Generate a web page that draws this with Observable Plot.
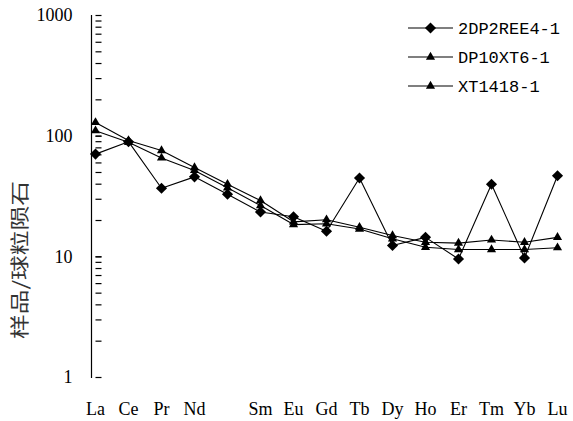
<!DOCTYPE html>
<html>
<head>
<meta charset="utf-8">
<script src="https://cdn.jsdelivr.net/npm/d3@7"></script>
<script src="https://cdn.jsdelivr.net/npm/@observablehq/plot@0.6"></script>
<style>
  html, body { margin: 0; padding: 0; background: #fff; }
  #chart { position: relative; width: 573px; height: 421px; }
</style>
</head>
<body>
<div id="chart"></div>
<script>
// ---- data ----
const elements = ["La","Ce","Pr","Nd","Pm","Sm","Eu","Gd","Tb","Dy","Ho","Er","Tm","Yb","Lu"];
const seriesNames = ["2DP2REE4-1", "DP10XT6-1", "XT1418-1"];
const seriesSymbols = ["diamond2", "triangle", "triangle"];
const s2DP2REE4 = [71, 90, 37, 46, 33, 23.5, 21.5, 16.3, 45, 12.4, 14.5, 9.6, 40, 9.8, 47];
const sDP10XT6  = [130, 92, 76, 55, 40, 29.3, 19.5, 20.3, 17.6, 15, 13.2, 13, 13.8, 13.2, 14.5];
const sXT1418   = [111, 89, 66, 52, 37.3, 26.6, 18.5, 18.8, 17, 14.1, 12, 11.5, 11.5, 11.5, 11.9];
const yMajorTicks = [1, 10, 100, 1000];
const yLabel = "样品/球粒陨石";

const seriesValues = [s2DP2REE4, sDP10XT6, sXT1418];
const rows = [];
seriesNames.forEach((name, i) => {
  elements.forEach((el, j) => rows.push({series: name, el, v: seriesValues[i][j]}));
});
const yMinorTicks = [];
for (const d of [1, 10, 100]) for (let k = 1; k <= 10; k++) yMinorTicks.push(d * k);

const serif = "'Liberation Serif', 'Times New Roman', serif";
const mono = "'Liberation Mono', 'Courier New', monospace";

const symR = {"diamond2": 5, "triangle": 3.4};

// inward tick symbol (draws a short horizontal stroke to the right)
const inwardTick = {draw(ctx) { ctx.moveTo(0, 0); ctx.lineTo(6, 0); }};

const chart = Plot.plot({
  width: 573,
  height: 421,
  marginLeft: 91,
  marginRight: 12,
  marginTop: 15,
  marginBottom: 44,
  style: {fontFamily: serif, fontSize: "18px", color: "#000", background: "#fff"},
  x: {type: "point", domain: elements, padding: 0},
  y: {type: "log", domain: [1, 1000]},
  marks: [
    Plot.frame({anchor: "left", stroke: "#000", strokeWidth: 1.2}),
    Plot.dot(yMinorTicks, {x: () => elements[0], y: d => d, symbol: inwardTick, r: 3,
      stroke: "#000", strokeWidth: 1.2, fill: "none"}),
    Plot.axisY({ticks: yMajorTicks, tickSize: 0, tickPadding: 19, tickFormat: d => String(d), label: null}),
    Plot.axisX({tickSize: 0, tickPadding: 25, tickFormat: d => d === "Pm" ? "" : d, label: null}),
    ...seriesNames.map((name, i) =>
      Plot.line(rows.filter(r => r.series === name), {x: "el", y: "v", stroke: "#000", strokeWidth: 1.1})),
    ...seriesNames.map((name, i) =>
      Plot.dot(rows.filter(r => r.series === name), {x: "el", y: "v", symbol: () => seriesSymbols[i],
        r: symR[seriesSymbols[i]], fill: "#000", stroke: "none"}))
  ]
});
document.getElementById("chart").appendChild(chart);

const svg = d3.select(chart);

// ---- y-axis title ----
svg.append("text")
  .attr("transform", "translate(20,260) rotate(-90)")
  .attr("text-anchor", "middle").attr("dy", "0.35em")
  .attr("font-family", "'Noto Sans CJK SC', sans-serif").attr("font-size", 19)
  .attr("textLength", 158).attr("lengthAdjust", "spacingAndGlyphs")
  .attr("fill", "#333").text(yLabel);

// ---- legend (inside plot, top right) ----
const lg = svg.append("g").attr("class", "legend");
const legendX0 = 408, legendX1 = 453, rowY0 = 28, rowStep = 29;
const d3sym = {"diamond2": d3.symbolDiamond2, "triangle": d3.symbolTriangle};
seriesNames.forEach((name, i) => {
  const y = rowY0 + i * rowStep;
  const g = lg.append("g").attr("transform", `translate(0,${y})`);
  g.append("line").attr("x1", legendX0).attr("x2", legendX1).attr("y1", 0).attr("y2", 0)
    .attr("stroke", "#000").attr("stroke-width", 1.1);
  const r = symR[seriesSymbols[i]];
  g.append("path").attr("transform", `translate(${(legendX0 + legendX1) / 2},0)`)
    .attr("d", d3.symbol(d3sym[seriesSymbols[i]], Math.PI * r * r)()).attr("fill", "#000");
  g.append("text").attr("x", legendX1 + 5).attr("y", 0).attr("dy", "0.35em")
    .attr("text-anchor", "start")
    .attr("font-family", mono).attr("font-size", 17).attr("fill", "#000").text(name);
});
</script>
</body>
</html>
